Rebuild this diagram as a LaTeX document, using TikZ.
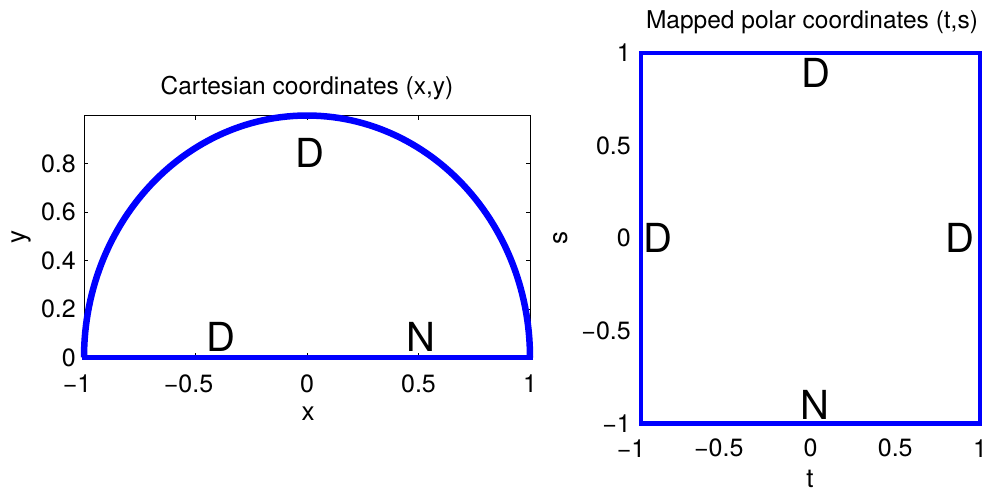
\documentclass[tikz,border=0pt]{standalone}
\usepackage{fontspec}
\setmainfont{TeX Gyre Heros}
\definecolor{mblue}{RGB}{0,0,255}

\begin{document}
\begin{tikzpicture}[x=1pt, y=-1pt,
  ticklab/.style={inner sep=0pt, font=\fontsize{25}{28}\selectfont},
  axlab/.style={inner sep=0pt, font=\fontsize{26}{30}\selectfont},
  titlab/.style={inner sep=0pt, font=\fontsize{24.5}{28}\selectfont},
  bclab/.style={inner sep=0pt, font=\fontsize{40}{44}\selectfont},
  bdry/.style={draw=mblue, line width=5pt, line join=miter},
  frame/.style={draw=black, line width=1pt}]
  \useasboundingbox (0,0) rectangle (984,491);

  % left panel: half disc in (x,y)
  \begin{scope}[shift={(307,357.5)}, x=223pt, y=242pt]
    \draw[frame] (-1,0) rectangle (1,1);
    \foreach \v in {-1,-0.5,0,0.5,1} {
      \draw[frame] (\v,0) -- ++(0,0.02);
      \draw[frame] (\v,1) -- ++(0,-0.02);
    }
    \foreach \v in {0,0.2,0.4,0.6,0.8} {
      \draw[frame] (-1,\v) -- ++(0.02,0);
      \draw[frame] (1,\v) -- ++(-0.02,0);
    }
    % curved part is drawn a bit heavier, as in the plot
    \draw[bdry, line width=6.5pt] plot[domain=0:180, samples=120] ({cos(\x)},{sin(\x)});
    \draw[bdry, line cap=rect] (-1,0) -- (1,0);
    % tick labels
    \foreach \v/\t/\dx [count=\i] in {-1/−1/-7, -0.5/−0.5/-7, 0/0/0, 0.5/0.5/0, 1/1/0}
      \node[ticklab, xshift=\dx pt, yshift=-26.5pt] (cxt\i) at (\v,0) {\t};
    \foreach \v [count=\i] in {0,0.2,0.4,0.6,0.8}
      \node[ticklab, anchor=east, xshift=-8pt] (cyt\i) at (-1,\v) {\v};
    % boundary conditions
    \node[bclab] (cdtop) at (0.013,0.847) {D};
    \node[bclab] (cdbot) at (-0.388,0.087) {D};
    \node[bclab] (cnbot) at (0.511,0.087) {N};
  \end{scope}
  \node[titlab] (ttlcart) at (307,88) {Cartesian coordinates (x,y)};
  \node[axlab] (labx) at (308,414) {x};
  \node[axlab, rotate=90] (laby) at (22,237) {y};

  % right panel: square in (t,s)
  \begin{scope}[shift={(810.5,238.2)}, x=169.5pt, y=185.15pt]
    \draw[frame] (-1,-1) rectangle (1,1);
    \draw[bdry, line width=4.5pt] (-1,-1) rectangle (1,1);
    % tick labels
    \foreach \v/\t/\dx [count=\i] in {-1/−1/-10, -0.5/−0.5/-7, 0/0/0, 0.5/0.5/0, 1/1/0}
      \node[ticklab, xshift=\dx pt, yshift=-24.8pt] (pxt\i) at (\v,-1) {\t};
    \foreach \v/\t [count=\i] in {-1/−1, -0.5/−0.5, 0/0, 0.5/0.5, 1/1}
      \node[ticklab, anchor=east, xshift=-10pt] (pyt\i) at (-1,\v) {\t};
    % boundary conditions
    \node[bclab] (pdtop) at (0.03,0.895) {D};
    \node[bclab] (pdlft) at (-0.903,0.003) {D};
    \node[bclab] (pdrgt) at (0.88,0.003) {D};
    \node[bclab] (pnbot) at (0.027,-0.9) {N};
  \end{scope}
  \node[titlab] (ttlpolar) at (812,22) {Mapped polar coordinates (t,s)};
  \node[axlab] (labt) at (810,479) {t};
  \node[axlab, rotate=90] (labs) at (561,238) {s};
\end{tikzpicture}
\end{document}
